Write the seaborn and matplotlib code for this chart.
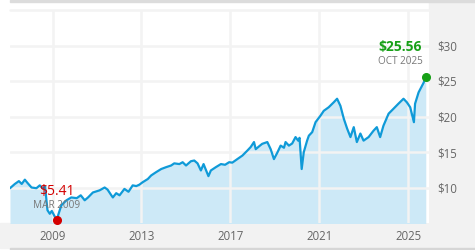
import matplotlib
matplotlib.use("Agg")
import matplotlib.pyplot as plt
from matplotlib.patches import Rectangle
import pandas as pd
import seaborn as sns

dates = [
    "2007-02-02", "2007-04-23", "2007-06-28", "2007-08-14", "2007-10-04", "2007-11-21",
    "2008-01-22", "2008-04-11", "2008-06-05", "2008-07-22", "2008-09-01", "2008-10-10",
    "2008-11-17", "2008-12-20", "2009-03-09", "2009-05-26", "2009-08-18", "2009-11-06",
    "2010-02-03", "2010-04-10", "2010-06-14", "2010-08-08", "2010-10-27", "2011-02-14",
    "2011-05-08", "2011-06-25", "2011-08-26", "2011-09-20", "2011-11-14", "2012-01-08",
    "2012-03-28", "2012-06-03", "2012-08-11", "2012-10-09", "2012-11-29", "2013-01-23",
    "2013-04-17", "2013-06-11", "2013-08-29", "2013-11-22", "2014-02-10", "2014-05-05",
    "2014-06-25", "2014-09-17", "2014-11-10", "2015-01-05", "2015-03-26", "2015-05-20",
    "2015-07-13", "2015-09-06", "2015-10-20", "2016-01-08", "2016-02-17", "2016-05-08",
    "2016-07-31", "2016-10-08", "2016-12-13", "2017-02-03", "2017-04-27", "2017-07-20",
    "2017-10-09", "2017-12-03", "2018-01-26", "2018-02-24", "2018-04-20", "2018-06-10",
    "2018-09-02", "2018-10-27", "2018-12-20", "2019-02-13", "2019-04-09", "2019-06-03",
    "2019-06-29", "2019-08-23", "2019-10-16", "2019-12-10", "2020-01-22", "2020-02-14",
    "2020-03-20", "2020-04-23", "2020-06-17", "2020-07-16", "2020-09-09", "2020-11-03",
    "2021-01-22", "2021-03-18", "2021-06-07", "2021-08-29", "2021-10-23", "2021-12-17",
    "2022-02-10", "2022-04-06", "2022-05-31", "2022-07-24", "2022-09-13", "2022-11-10",
    "2023-01-01", "2023-03-25", "2023-06-14", "2023-08-07", "2023-10-01", "2023-11-24",
    "2024-02-17", "2024-05-08", "2024-07-27", "2024-10-19", "2024-12-13", "2025-02-06",
    "2025-04-08", "2025-04-27", "2025-06-24", "2025-09-17", "2025-10-20",
]
prices = [
    9.9, 10.5, 10.9, 10.5, 11.1, 10.6,
    10.0, 9.9, 10.3, 9.9, 10.1, 6.8,
    6.3, 6.7, 5.41, 7.5, 8.2, 8.6,
    8.5, 8.9, 8.2, 8.6, 9.3, 9.6,
    10.0, 9.7, 8.9, 8.6, 9.2, 8.9,
    9.8, 9.4, 10.3, 10.2, 10.4, 10.75,
    11.2, 11.7, 12.15, 12.6, 12.86, 13.1,
    13.4, 13.3, 13.56, 13.1, 13.7, 13.8,
    13.4, 12.4, 13.3, 11.6, 12.4, 12.86,
    13.3, 13.2, 13.56, 13.5, 14.0, 14.5,
    15.2, 15.7, 16.4, 15.4, 15.8, 16.15,
    16.4, 15.4, 14.0, 14.9, 15.9, 15.6,
    16.4, 15.9, 16.2, 17.1, 16.6, 17.0,
    12.6, 14.97, 16.6, 17.3, 17.8, 19.2,
    20.1, 20.8, 21.3, 22.0, 22.5, 21.5,
    19.7, 18.3, 17.1, 18.5, 16.4, 17.6,
    16.6, 17.1, 18.0, 18.5, 17.1, 18.7,
    20.4, 21.1, 21.8, 22.5, 22.0, 21.3,
    19.2, 21.8, 23.4, 24.8, 25.56,
]
year_ticks = ["2009", "2013", "2017", "2021", "2025"]
price_ticks = [10, 15, 20, 25, 30]
low_label, low_date_label = "$5.41", "MAR 2009"
high_label, high_date_label = "$25.56", "OCT 2025"

df = pd.DataFrame({"date": pd.to_datetime(dates), "price": prices})

sns.set_style("white")
plt.rcParams["font.family"] = ["Open Sans", "DejaVu Sans"]

W, H = 475, 250
fig = plt.figure(figsize=(W / 100, H / 100), dpi=100)
fig.patch.set_facecolor("white")

# background panels (behind the axes)
for rect in [
    Rectangle((429 / W, 2 / H), (W - 429) / W, (H - 4) / H, color="#f2f2f2"),
    Rectangle((0, 2 / H), 1, 25 / H, color="#f2f2f2"),
    Rectangle((10 / W, 0), 1, 2.5 / H, color="#d6d6d6"),
    Rectangle((10 / W, (H - 1.7) / H), 1, 1.7 / H, color="#dcdcdc"),
]:
    rect.set_transform(fig.transFigure)
    rect.set_zorder(-5)
    fig.patches.append(rect)

ax = fig.add_axes([10 / W, 27 / H, 419 / W, 213 / H])
ax.set_facecolor("white")
ax.set_zorder(1)

line_color = "#0f9ad8"
ax.fill_between(df["date"], df["price"], 0, color="#cde9f7", linewidth=0, zorder=1)
sns.lineplot(data=df, x="date", y="price", ax=ax, color=line_color, linewidth=1.6, zorder=3)

ax.set_ylim(5, 35)
ax.set_xlim(pd.Timestamp("2007-02-02"), pd.Timestamp("2025-12-12"))

ax.set_yticks(price_ticks)
ax.set_yticklabels([f"${v}" for v in price_ticks])
ax.set_xticks([pd.Timestamp(f"{y}-01-01") for y in year_ticks])
ax.set_xticklabels(year_ticks)
ax.yaxis.tick_right()
ax.tick_params(axis="y", length=0, pad=6, labelsize=8.3, labelcolor="#666666")
ax.tick_params(axis="x", length=0, pad=5, labelsize=8.3, labelcolor="#666666")
ax.set_xlabel("")
ax.set_ylabel("")
for s in ax.spines.values():
    s.set_visible(False)

ax.set_axisbelow(False)
ax.grid(True, color="#f3f3f3", linewidth=1.8)
ax.axhline(35, color="#f3f3f3", linewidth=1.8, zorder=2.5, clip_on=False)

# min / max markers
i_min = prices.index(min(prices))
i_max = prices.index(max(prices))
xmin, ymin = df["date"][i_min], prices[i_min]
xmax, ymax = df["date"][i_max], prices[i_max]
ax.plot([xmin], [ymin], "o", color="#d40000", markersize=5.5, zorder=5, clip_on=False)
ax.plot([xmax], [ymax], "o", color="#17a017", markersize=5.5, zorder=5, clip_on=False)

ax.annotate(low_label, (xmin, ymin), xytext=(0, 29), textcoords="offset pixels",
            ha="center", va="center", color="#d40000", fontsize=10, zorder=6)
ax.annotate(low_date_label, (xmin, ymin), xytext=(0, 15), textcoords="offset pixels",
            ha="center", va="center", color="#777777", fontsize=7.2, zorder=6)
ax.annotate(high_label, (xmax, ymax), xytext=(-4, 30), textcoords="offset pixels",
            ha="right", va="center", color="#17a017", fontsize=10, fontweight="bold", zorder=6)
ax.annotate(high_date_label, (xmax, ymax), xytext=(-3, 16), textcoords="offset pixels",
            ha="right", va="center", color="#777777", fontsize=7.2, zorder=6)

fig.savefig("out.png", dpi=100)
